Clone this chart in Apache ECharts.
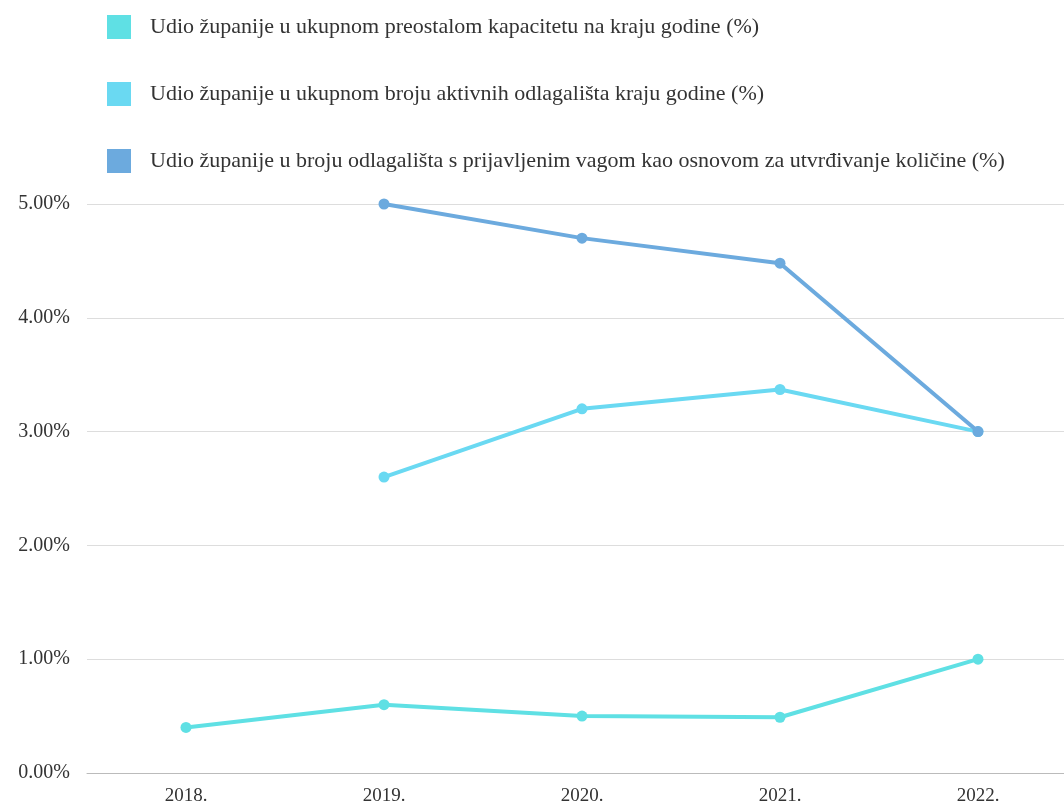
<!DOCTYPE html>
<html>
<head>
<meta charset="utf-8">
<script src="https://cdn.jsdelivr.net/npm/echarts@6/dist/echarts.min.js"></script>
<style>html,body{margin:0;padding:0;background:#fff;overflow:hidden;width:1064px;height:805px;}#c{width:1077px;height:805px;}</style>
</head>
<body>
<div id="c"></div>
<script>
var categories = ['2018.', '2019.', '2020.', '2021.', '2022.'];
var seriesNames = [
  'Udio županije u ukupnom preostalom kapacitetu na kraju godine (%)',
  'Udio županije u ukupnom broju aktivnih odlagališta kraju godine (%)',
  'Udio županije u broju odlagališta s prijavljenim vagom kao osnovom za utvrđivanje količine (%)'
];
var capacityShare = [0.40, 0.60, 0.50, 0.49, 1.00];
var activeShare = [null, 2.60, 3.20, 3.37, 3.00];
var scaleShare = [null, 5.00, 4.70, 4.48, 3.00];
var yTicks = [0, 1, 2, 3, 4, 5];
var colors = ['#5fe0e4', '#6ad9f2', '#6caade'];

var font = '"Liberation Serif", "DejaVu Serif", serif';
var chart = echarts.init(document.getElementById('c'));
function mk(name, data, color, z) {
  return {
    name: name, type: 'line', data: data, z: z,
    symbol: 'circle', symbolSize: 11, connectNulls: false,
    lineStyle: { width: 4, color: color },
    itemStyle: { color: color },
    emphasis: { disabled: true }
  };
}
chart.setOption({
  animation: false,
  backgroundColor: '#fff',
  color: colors,
  legend: {
    orient: 'vertical', left: 107, top: 15, padding: 0,
    itemWidth: 24, itemHeight: 24, itemGap: 43,
    icon: 'rect',
    data: seriesNames,
    textStyle: { fontFamily: font, fontSize: 22, color: '#333', padding: [0, 0, 0, 14] }
  },
  grid: { left: 87, right: 0, top: 204, bottom: 32, containLabel: false, outerBoundsMode: 'none' },
  xAxis: {
    type: 'category', data: categories, boundaryGap: true,
    axisLine: { lineStyle: { color: '#bbb', width: 1 } },
    axisTick: { show: false },
    axisLabel: { fontFamily: font, fontSize: 19, color: '#333', margin: 14 }
  },
  yAxis: {
    type: 'value', min: yTicks[0], max: yTicks[yTicks.length - 1], interval: 1,
    axisLine: { show: false }, axisTick: { show: false },
    splitLine: { lineStyle: { color: '#ddd', width: 1 } },
    axisLabel: { fontFamily: font, fontSize: 20, color: '#333', margin: 17,
      formatter: function (v) { return v.toFixed(2) + '%'; } }
  },
  series: [
    mk(seriesNames[0], capacityShare, colors[0], 3),
    mk(seriesNames[1], activeShare, colors[1], 2),
    mk(seriesNames[2], scaleShare, colors[2], 4)
  ]
});
</script>
</body>
</html>
